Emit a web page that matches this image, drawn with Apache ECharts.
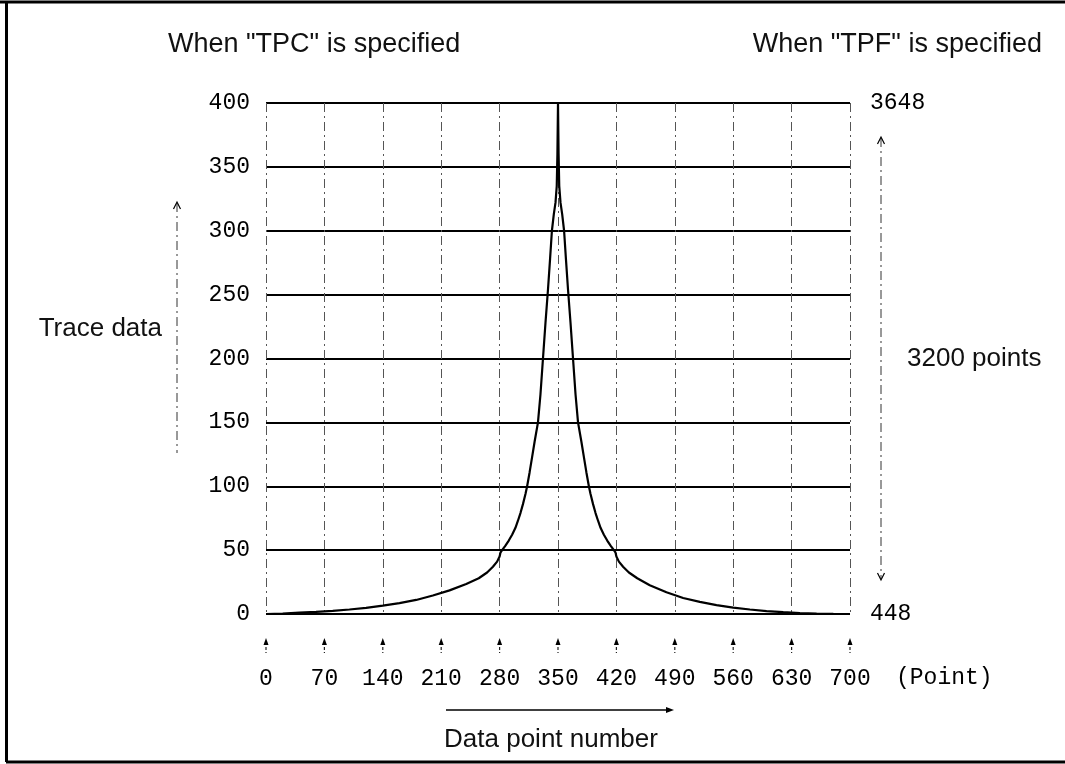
<!DOCTYPE html>
<html>
<head>
<meta charset="utf-8">
<script src="https://cdn.jsdelivr.net/npm/echarts@6/dist/echarts.min.js"></script>
<style>
html,body{margin:0;padding:0;background:#fff;}
#c{width:1065px;height:764px;}
</style>
</head>
<body>
<div id="c"></div>
<script>
// ---- data ----
var pointX = [0, 20, 40, 60, 80, 100, 120, 140, 160, 180, 200, 220, 240, 255, 265, 272, 277, 280, 281, 283,
              287, 291, 295, 299, 302, 305, 308, 311, 313, 316, 319, 322, 326, 329, 332, 335, 338, 340.5, 342.7,
              345, 347, 348.5, 349.3, 350,
              350.7, 351.5, 353, 355, 357.3, 359.5, 362, 365, 368, 371, 374, 378, 381, 384, 387, 389, 392, 395,
              398, 401, 405, 409, 413, 417, 419, 420, 423, 428, 435, 445, 460, 480, 500, 520, 540, 560, 580,
              600, 620, 640, 660, 680, 700];
var traceY = [0, 0.4, 1, 1.6, 2.4, 3.5, 4.8, 6.5, 8.5, 11, 14.5, 18.5, 23.5, 28, 32.5, 37, 41, 45, 48, 50,
              53.5, 57.5, 62, 67.5, 73, 79, 86, 94, 100, 111, 123, 135, 150, 172, 200, 228, 254, 278, 300,
              313, 322, 335, 360, 400,
              360, 335, 322, 313, 300, 278, 254, 228, 200, 172, 150, 135, 123, 111, 100, 94, 86, 79,
              73, 67.5, 62, 57.5, 53.5, 50, 48, 45, 41, 37, 32.5, 28, 22.5, 17, 12.5, 9.5, 7, 5, 3.5,
              2.3, 1.4, 0.8, 0.4, 0.1, 0];
var xTicks = [0, 70, 140, 210, 280, 350, 420, 490, 560, 630, 700];
var yTicks = [0, 50, 100, 150, 200, 250, 300, 350, 400];
var rightLabels = ['448', '3648'];
var titles = ['When "TPC" is specified', 'When "TPF" is specified'];

var seriesData = pointX.map(function (x, i) { return [x, traceY[i]]; });

var chart = echarts.init(document.getElementById('c'), null, {renderer: 'canvas'});
var mono = '"Liberation Mono", "DejaVu Sans Mono", monospace';
var sans = '"Liberation Sans", Arial, sans-serif';
var txtFont = '26px ' + sans;
var titleFont = '27px ' + sans;

function arrowHead(x, y, dir) {
  var d = dir === 'up' ? -1 : 1;
  return {
    type: 'polyline', silent: true,
    shape: {points: [[x - 3.5, y - d * 7], [x, y], [x + 3.5, y - d * 7]]},
    style: {stroke: '#000', lineWidth: 1.2, fill: null}
  };
}
function arrowHeadRight(x, y) {
  return {
    type: 'polygon', silent: true,
    shape: {points: [[x, y], [x - 8, y - 3], [x - 8, y + 3]]},
    style: {fill: '#000'}
  };
}

var option = {
  backgroundColor: '#fff',
  animation: false,
  grid: {left: 266, right: 215, top: 103, bottom: 150, containLabel: false},
  xAxis: [{
    type: 'value', min: 0, max: 700, interval: 70,
    axisLine: {show: false}, axisTick: {show: false},
    axisLabel: {
      margin: 53, color: '#000', fontFamily: mono, fontSize: 23,
      customValues: xTicks,
      formatter: function (v) { return String(v); }
    },
    splitLine: {show: true, lineStyle: {color: '#555', width: 1, type: [9, 4, 2, 4]}}
  }],
  yAxis: [{
    type: 'value', min: 0, max: 400, interval: 50,
    axisLine: {show: false}, axisTick: {show: false},
    axisLabel: {margin: 16, color: '#000', fontFamily: mono, fontSize: 23,
      customValues: yTicks},
    splitLine: {show: true, lineStyle: {color: '#000', width: 2.2}}
  }, {
    type: 'value', min: 0, max: 400, interval: 400, position: 'right',
    axisLine: {show: false}, axisTick: {show: false},
    axisLabel: {margin: 20, color: '#000', fontFamily: mono, fontSize: 23,
      formatter: function (v) { return v === 0 ? rightLabels[0] : rightLabels[1]; }},
    splitLine: {show: false}
  }],
  series: [{
    type: 'line',
    data: seriesData,
    showSymbol: false,
    smooth: false,
    lineStyle: {color: '#000', width: 2.2},
    z: 5
  }],
  graphic: [
    // page border
    {type: 'line', shape: {x1: 0, y1: 2, x2: 1065, y2: 2}, style: {stroke: '#000', lineWidth: 3}},
    {type: 'line', shape: {x1: 6.5, y1: 2, x2: 6.5, y2: 762}, style: {stroke: '#000', lineWidth: 3}},
    {type: 'line', shape: {x1: 6, y1: 762, x2: 1065, y2: 762}, style: {stroke: '#000', lineWidth: 3}},
    // titles
    {type: 'text', x: 168, y: 45, style: {text: titles[0], font: titleFont, fill: '#111', verticalAlign: 'middle'}},
    {type: 'text', x: 1042, y: 45, style: {text: titles[1], font: titleFont, fill: '#111', align: 'right', verticalAlign: 'middle'}},
    // left annotation
    {type: 'text', x: 162, y: 329, style: {text: 'Trace data', font: txtFont, fill: '#111', align: 'right', verticalAlign: 'middle'}},
    {type: 'line', shape: {x1: 177, y1: 203, x2: 177, y2: 453}, style: {stroke: '#333', lineWidth: 1, lineDash: [9, 4, 2, 4]}},
    arrowHead(177, 202, 'up'),
    // right annotation
    {type: 'line', shape: {x1: 881, y1: 138, x2: 881, y2: 579}, style: {stroke: '#333', lineWidth: 1, lineDash: [9, 4, 2, 4]}},
    arrowHead(881, 137, 'up'),
    arrowHead(881, 580, 'down'),
    {type: 'text', x: 907, y: 359, style: {text: '3200 points', font: txtFont, fill: '#111', verticalAlign: 'middle'}},
    // x unit
    {type: 'text', x: 896, y: 678, style: {text: '(Point)', font: '23px ' + mono, fill: '#000', verticalAlign: 'middle'}},
    // bottom label
    {type: 'line', shape: {x1: 446, y1: 710, x2: 668, y2: 710}, style: {stroke: '#000', lineWidth: 1.5}},
    arrowHeadRight(674, 710),
    {type: 'text', x: 551, y: 740, style: {text: 'Data point number', font: txtFont, fill: '#111', align: 'center', verticalAlign: 'middle'}}
  ]
};
chart.setOption(option);

// small upward tick arrows below the x axis, placed through the axis scale
var baseY = chart.convertToPixel({yAxisIndex: 0}, 0);
var tickArrows = [];
xTicks.forEach(function (v) {
  var px = chart.convertToPixel({xAxisIndex: 0}, v);
  tickArrows.push({type: 'line', silent: true,
    shape: {x1: px, y1: baseY + 28, x2: px, y2: baseY + 39},
    style: {stroke: '#222', lineWidth: 1.2, lineDash: [3, 2]}});
  tickArrows.push({type: 'polygon', silent: true,
    shape: {points: [[px, baseY + 24], [px - 2.5, baseY + 31], [px + 2.5, baseY + 31]]},
    style: {fill: '#000'}});
});
chart.setOption({graphic: option.graphic.concat(tickArrows)});
</script>
</body>
</html>
